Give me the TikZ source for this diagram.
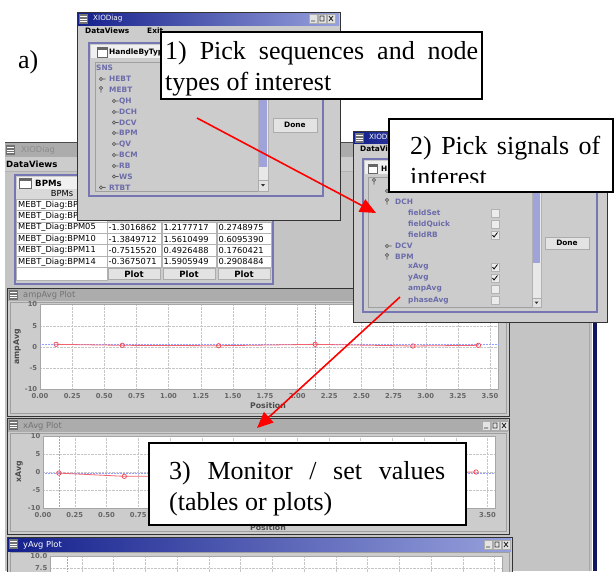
\documentclass[tikz,border=0pt]{standalone}
\usepackage{fontspec}
\setmainfont{Liberation Serif}
\setsansfont{DejaVu Sans}
\usetikzlibrary{arrows.meta}

\definecolor{winbg}{RGB}{204,204,204}
\definecolor{deskbg}{RGB}{196,196,196}
\definecolor{tbdark}{RGB}{20,32,140}
\definecolor{tblight}{RGB}{150,160,220}
\definecolor{tboff}{RGB}{172,172,172}
\definecolor{framebd}{RGB}{118,118,178}
\definecolor{treetxt}{RGB}{108,108,170}
\definecolor{thumbc}{RGB}{160,162,218}
\definecolor{plotred}{RGB}{240,70,85}
\definecolor{crossc}{RGB}{150,160,255}
\definecolor{navy}{RGB}{16,22,96}

\newcommand{\uismall}{\sffamily\fontsize{7.2}{8}\selectfont}
\newcommand{\uismallb}{\sffamily\bfseries\fontsize{7.4}{8}\selectfont}
\newcommand{\uibig}{\sffamily\fontsize{8.3}{9}\selectfont}
\newcommand{\uibigb}{\sffamily\bfseries\fontsize{8.6}{9}\selectfont}
\newcommand{\tickfont}{\sffamily\bfseries\fontsize{6.8}{7}\selectfont}
\newcommand{\callfont}{\rmfamily\fontsize{26}{31}\selectfont\hyphenpenalty=10000\tolerance=9999}

\tikzset{
  win/.style={draw=black!80, fill=winbg},
  titleon/.style={left color=tbdark, right color=tblight},
  titleoff/.style={fill=tboff},
  framebox/.style={draw=framebd, line width=2.4pt, fill=winbg},
  panel/.style={draw=gray!75, fill=winbg},
  ui/.style={font=\uismall, inner sep=0pt, anchor=west},
  uib/.style={font=\uismallb, inner sep=0pt, anchor=west},
  uibig/.style={font=\uibig, inner sep=0pt, anchor=west},
  uibigb/.style={font=\uibigb, inner sep=0pt, anchor=west},
  treelbl/.style={font=\uismallb, text=treetxt, inner sep=0pt, anchor=west},
  treeicon/.style={draw=black!65, line width=0.7pt},
  button/.style={draw=gray!65, fill=gray!22},
  cell/.style={draw=gray!60, fill=white},
  tick/.style={font=\tickfont, text=black!60, inner sep=0pt},
  axlbl/.style={font=\sffamily\bfseries\fontsize{7.8}{8}\selectfont, text=black!70, inner sep=0pt},
  gridln/.style={gray!45, densely dotted, line width=0.4pt},
  cross/.style={crossc, densely dotted, line width=0.5pt},
  curve/.style={plotred!85, line width=0.8pt},
  dot/.style={draw=plotred, line width=0.7pt},
  callbox/.style={draw=black, line width=1.3pt, fill=white},
  calltext/.style={font=\callfont, align=justify, inner sep=0pt, anchor=base west},
  pointer/.style={red, line width=1.6pt, -{Triangle[length=16pt,width=14pt]}},
  keyshut/.pic={\draw[treeicon] (0,0) circle (1.7pt) (1.7,0) -- (4.5,0);},
  keyopen/.pic={\draw[treeicon] (0,0) circle (1.7pt) (0,1.7) -- (0,4.5);},
  menuicon/.pic={\fill[black!55] (0,0) rectangle (9,10);
    \foreach \k in {2.5,5,7.5} \draw[white, line width=0.6pt] (1,\k) -- (8,\k);},
  winbtns/.pic={\foreach \k in {0,9,18} \draw[button] (\k,0) rectangle ++(8,9);
    \draw[black!80, line width=0.9pt] (2,7) -- (6,7) (11,2) rectangle (15,7) (20,2) -- (24,7) (20,7) -- (24,2);},
  checkbox/.pic={\draw[gray!60, fill=gray!15] (-4,-4) rectangle (4,4);},
  checked/.pic={\draw[gray!60, fill=gray!15] (-4,-4) rectangle (4,4);
    \draw[black, line width=0.8pt] (-2.5,0) -- (-1,2) -- (2.5,-2.5);},
}

\begin{document}
\begin{tikzpicture}[x=1pt, y=-1pt]
\useasboundingbox (0,0) rectangle (615,571);
\fill[white] (0,0) rectangle (615,571);

\node[font=\rmfamily\fontsize{26}{31}\selectfont, anchor=base west, inner sep=0pt] (lbla) at (18,68) {a)};

% main window in the back
\fill[deskbg] (5,142) rectangle (592,571);
\draw[black!70] (5,142) -- (592,142);
\fill[titleoff] (5,143) rectangle (592,157);
\pic at (6,145) {menuicon};
\node[uibig, text=black!45] (mtitle) at (21,150) {XIODiag};
\fill[winbg] (5,157) rectangle (592,171);
\node[uibigb] (mmenu) at (6,164) {DataViews};
\draw[gray!60] (5,171) -- (592,171);
\draw[gray!70] (589,171) -- (589,571);
\fill[navy] (593,142) rectangle (597,571);

% BPMs table
\draw[framebox] (15,175) rectangle (273,284);
\fill[gray!12] (16.5,176.5) rectangle (271.5,189);
\draw[black!60, fill=white] (19,178) rectangle (31,188);
\fill[black!60] (19,178) rectangle (31,180.5);
\node[uibigb] (bpmtitle) at (35,183) {BPMs};
\fill[gray!30] (16,189) rectangle (271,199);
\node[uibig, anchor=center] (bpmhead) at (62,194) {BPMs};
\foreach \y/\n [count=\i] in {199/MEBT\_Diag:BP, 210.4/MEBT\_Diag:BP, 221.8/MEBT\_Diag:BPM05,
    233.2/MEBT\_Diag:BPM10, 244.6/MEBT\_Diag:BPM11, 256/MEBT\_Diag:BPM14}{
  \draw[cell] (16,\y) rectangle (107,\y+11.4);
  \node[uibig] (row\i) at (18,\y+5.9) {\n};
}
\foreach \y/\va/\vb/\vc [count=\i] in {221.8/-1.3016862/1.2177717/0.2748975,
    233.2/-1.3849712/1.5610499/0.6095390, 244.6/-0.7515520/0.4926488/0.1760421,
    256/-0.3675071/1.5905949/0.2908484}{
  \foreach \x/\v [count=\j] in {107/\va, 162/\vb, 217/\vc}{
    \draw[cell] (\x,\y) rectangle (\x+54.5,\y+11.4);
    \begin{scope}
      \clip (\x,\y) rectangle (\x+53,\y+11.4);
      \node[uibig] (val\i\j) at (\x+1.5,\y+5.9) {\v};
    \end{scope}
  }
}
\draw[cell] (16,267.4) rectangle (107,280);
\foreach \x [count=\j] in {107,162,217}{
  \draw[button] (\x+1,268.4) rectangle (\x+53.5,279.5);
  \node[uibigb, anchor=center] (plot\j) at (\x+27,274) {Plot};
}

% ampAvg plot
\draw[win] (7,288) rectangle (509,416);
\fill[titleoff] (8,289) rectangle (508,301);
\pic at (9,290) {menuicon};
\node[uibig, text=black!55] (amptitle) at (23,295) {ampAvg Plot};
\draw[panel] (10,302) rectangle (506,413);
\begin{scope}[shift={(40,347)}, x=128.57pt, y=4.25pt]
  \fill[white] (0,-10) rectangle (3.56,10);
  \foreach \k in {1,...,14} \draw[gridln] (\k/4,-10) -- (\k/4,10);
  \foreach \k in {-5,0,5} \draw[gridln] (0,\k) -- (3.56,\k);
  \draw[gray!70] (0,-10) rectangle (3.56,10);
  \foreach \t [count=\k from 0] in {0.00,0.25,0.50,0.75,1.00,1.25,1.50,1.75,2.00,2.25,2.50,2.75,3.00,3.25,3.50}
    \node[tick] (ax\k) at (\k/4,-11.6) {\t};
  \foreach \k in {10,5,0,-5,-10} \node[tick, anchor=east] (ay\k) at (-0.02,\k) {\k};
  \draw[cross] (2.14,-10) -- (2.14,10);
  \draw[cross] (0,0.7) -- (3.56,0.7);
  \draw[curve] plot coordinates {(0.125,0.63) (0.64,0.4) (1.39,0.3) (2.14,0.63) (2.9,0.24) (3.41,0.4)};
  \foreach \p in {(0.125,0.63),(0.64,0.4),(1.39,0.3),(2.14,0.63),(2.9,0.24),(3.41,0.4)}
    \draw[dot] \p circle (2.2pt);
\end{scope}
\node[axlbl] (amppos) at (268,406) {Position};
\node[axlbl, rotate=90] (ampname) at (17,347) {ampAvg};

% xAvg plot
\draw[win] (7,418) rectangle (509,534);
\fill[titleoff] (8,419) rectangle (508,432);
\pic at (9,420) {menuicon};
\node[uibig, text=black!55] (xtitle) at (23,426) {xAvg Plot};
\pic at (482,421) {winbtns};
\draw[panel] (10,433) rectangle (506,531);
\begin{scope}[shift={(43,472)}, x=127pt, y=3.6pt]
  \fill[white] (0,-10) rectangle (3.56,10);
  \foreach \k in {1,...,14} \draw[gridln] (\k/4,-10) -- (\k/4,10);
  \foreach \k in {-5,0,5} \draw[gridln] (0,\k) -- (3.56,\k);
  \draw[gray!70] (0,-10) rectangle (3.56,10);
  \foreach \k/\t in {0/0.00,1/0.25,2/0.50,3/0.75,14/3.50}
    \node[tick] (bx\k) at (\k/4,-11.9) {\t};
  \foreach \k in {10,5,0,-5,-10} \node[tick, anchor=east] (by\k) at (-0.02,\k) {\k};
  \draw[cross] (0.125,-10) -- (0.125,10);
  \draw[cross] (0,-0.3) -- (3.56,-0.3);
  \draw[curve] plot coordinates {(0.125,-0.3) (0.64,-1.2) (1.39,-1.0) (2.14,-0.6) (2.9,-0.2) (3.41,0)};
  \foreach \p in {(0.125,-0.3),(0.64,-1.2),(1.39,-1.0),(2.14,-0.6),(2.9,-0.2),(3.41,0)}
    \draw[dot] \p circle (2.2pt);
\end{scope}
\node[axlbl] (xpos) at (268,527.5) {Position};
\node[axlbl, rotate=90] (xname) at (19,472) {xAvg};

% yAvg plot
\draw[win] (7,537) rectangle (512,575);
\shade[titleon] (8,538) rectangle (511,551);
\pic at (9,539) {menuicon};
\node[uibig, text=white] (ytitle) at (23,545) {yAvg Plot};
\pic at (484,540) {winbtns};
\draw[panel] (10,552) rectangle (509,575);
\begin{scope}[shift={(50,604)}, x=127pt, y=4.8pt]
  \fill[white] (0,0) rectangle (3.56,10);
  \foreach \k in {1,...,14} \draw[gridln] (\k/4,0) -- (\k/4,10);
  \draw[gridln] (0,7.5) -- (3.56,7.5);
  \draw[gray!70] (0,0) rectangle (3.56,10);
  \draw[cross] (0.134,0) -- (0.134,10);
  \node[tick, anchor=east] (cy1) at (-0.02,10) {10.0};
  \node[tick, anchor=east] (cy2) at (-0.02,7.5) {7.5};
\end{scope}

% window 1: pick sequences
\draw[win] (77,12) rectangle (340,220);
\shade[titleon] (78,13) rectangle (339,25);
\pic at (79,14) {menuicon};
\node[ui, text=white] (w1title) at (93,19) {XIODiag};
\pic at (309,14) {winbtns};
\node[uib] (w1menu) at (85,30.5) {DataViews};
\node[uib] (w1exit) at (147,30.5) {Exit};
\draw[framebox] (89,43) rectangle (323,196);
\fill[gray!12] (90.5,44.5) rectangle (321.5,58);
\draw[black!60, fill=white] (97,47) rectangle (107,57);
\fill[black!60] (97,47) rectangle (107,49.5);
\node[uib] (w1frame) at (109,52) {HandleByType};
\draw[panel] (95,62) rectangle (268,191);
\begin{scope}
  \clip (95,62) rectangle (258,190);
  \node[treelbl] (sns) at (96,68) {SNS};
  \pic at (101,79) {keyshut};
  \node[treelbl] (hebt) at (109,79) {HEBT};
  \pic at (101,88) {keyopen};
  \node[treelbl] (mebt) at (109,90) {MEBT};
  \foreach \y/\t [count=\i] in {101/QH, 112/DCH, 122.5/DCV, 133/BPM, 144/QV, 155/BCM, 166/RB, 176.5/WS}{
    \pic at (114,\y) {keyshut};
    \node[treelbl] (seq\i) at (119,\y) {\t};
  }
  \pic at (101,187.5) {keyshut};
  \node[treelbl] (rtbt) at (109,187.5) {RTBT};
\end{scope}
\draw[gray!60, fill=gray!18] (258,62) rectangle (268,191);
\fill[thumbc] (259,63) rectangle (267,167);
\draw[button] (258,180) rectangle (268,191);
\fill[black!80] (261,184) -- (265,184) -- (263,186.5) -- cycle;
\draw[button] (273,118) rectangle (317,132);
\node[uib, anchor=center] (done1) at (295,125) {Done};

% window 2: pick signals
\draw[win] (353,131) rectangle (607,322);
\shade[titleon] (354,132) rectangle (606,143);
\pic at (355,133) {menuicon};
\node[ui, text=white] (w2title) at (369,138) {XIODiag};
\node[uib] (w2menu) at (360,149) {DataViews};
\draw[framebox] (363,159) rectangle (597,312);
\fill[gray!12] (364.5,160.5) rectangle (595.5,174);
\draw[black!60, fill=white] (368,164) rectangle (377,173);
\fill[black!60] (368,164) rectangle (377,166.5);
\node[uib] (w2frame) at (381,169) {H};
\draw[panel] (368,177) rectangle (541,307);
\pic at (374,180) {keyopen};
\pic at (387,191) {keyshut};
\pic at (387,200) {keyopen};
\node[treelbl] (dch) at (395,202) {DCH};
\foreach \y/\t/\m [count=\i] in {213/fieldSet/checkbox, 224/fieldQuick/checkbox, 235/fieldRB/checked}{
  \node[treelbl] (dchs\i) at (408,\y) {\t};
  \pic at (495,\y) {\m};
}
\pic at (387,246) {keyshut};
\node[treelbl] (dcv) at (395,246) {DCV};
\pic at (387,255) {keyopen};
\node[treelbl] (bpm) at (395,257) {BPM};
\foreach \y/\t/\m [count=\i] in {267/xAvg/checked, 278/yAvg/checked, 289/ampAvg/checkbox, 300/phaseAvg/checkbox}{
  \node[treelbl] (bpms\i) at (408,\y) {\t};
  \pic at (495,\y) {\m};
}
\draw[gray!60, fill=gray!18] (532,177) rectangle (541,307);
\fill[thumbc] (533,178) rectangle (540,263);
\draw[button] (532,298) rectangle (541,307);
\fill[black!80] (534.5,301.5) -- (538.5,301.5) -- (536.5,304) -- cycle;
\draw[button] (545,237) rectangle (589,249);
\node[uib, anchor=center] (done2) at (567,243) {Done};

% callouts
\draw[callbox] (161,32) rectangle (482,99);
\node[calltext, text width=313pt] (c1) at (165,59) {1) Pick sequences and node types of interest};
\draw[callbox] (389,119) rectangle (613,192);
\begin{scope}
  \clip (389,119) rectangle (613,182);
  \node[calltext, text width=190pt] (c2) at (410,154) {2) Pick signals of interest};
\end{scope}
\draw[callbox] (149,443) rectangle (466,525);
\node[calltext, text width=276pt] (c3) at (169,479) {3) Monitor / set values (tables or plots)};

% arrows
\coordinate (pick1) at (197,118);
\coordinate (pick2) at (376,213);
\coordinate (sig1) at (400,297);
\coordinate (sig2) at (257,428);
\draw[pointer] (pick1) -- (pick2);
\draw[pointer] (sig1) -- (sig2);
\end{tikzpicture}
\end{document}
